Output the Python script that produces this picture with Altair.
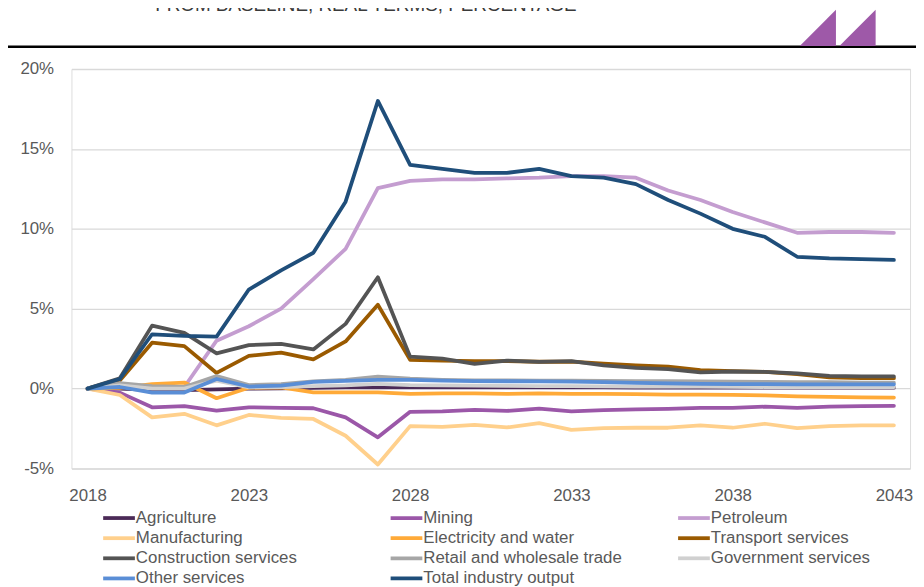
import altair as alt
import pandas as pd

years = list(range(2018, 2044))

series_names = [
    "Agriculture", "Mining", "Petroleum",
    "Manufacturing", "Electricity and water", "Transport services",
    "Construction services", "Retail and wholesale trade", "Government services",
    "Other services", "Total industry output",
]
series_colors = [
    "#4B2A57", "#9B57A8", "#C49DD0",
    "#FFD08C", "#FFAA38", "#9A5A00",
    "#545454", "#A6A6A6", "#D0D0D0",
    "#5A8ED6", "#1F4E7A",
]

agriculture = [0, 0.0, -0.08, -0.1, -0.05, 0.0, 0.02, 0.05, 0.07, 0.1, 0.08, 0.07, 0.07,
               0.07, 0.07, 0.07, 0.07, 0.06, 0.06, 0.06, 0.06, 0.06, 0.06, 0.06, 0.06, 0.06]
mining = [0, -0.25, -1.17, -1.1, -1.38, -1.17, -1.21, -1.23, -1.8, -3.05, -1.45, -1.42, -1.33,
          -1.4, -1.26, -1.43, -1.35, -1.3, -1.27, -1.21, -1.21, -1.13, -1.2, -1.13, -1.1, -1.08]
petroleum = [0, 0.2, 0.1, 0.1, 3.0, 3.9, 5.0, 6.85, 8.75, 12.55, 13.0, 13.1, 13.1,
             13.15, 13.2, 13.3, 13.3, 13.2, 12.4, 11.8, 11.05, 10.4, 9.75, 9.8, 9.8, 9.75]
manufacturing = [0, -0.4, -1.8, -1.58, -2.3, -1.65, -1.83, -1.9, -2.95, -4.75, -2.35, -2.4, -2.27,
                 -2.43, -2.16, -2.58, -2.47, -2.45, -2.45, -2.3, -2.45, -2.2, -2.47, -2.35, -2.3, -2.3]
electricity = [0, 0.05, 0.28, 0.38, -0.6, 0.05, 0.07, -0.24, -0.24, -0.24, -0.33, -0.3, -0.3,
               -0.33, -0.3, -0.33, -0.33, -0.35, -0.37, -0.38, -0.4, -0.42, -0.48, -0.52, -0.55, -0.56]
transport = [0, 0.5, 2.87, 2.66, 0.98, 2.05, 2.25, 1.83, 2.95, 5.25, 1.8, 1.75, 1.72,
             1.72, 1.68, 1.69, 1.56, 1.46, 1.38, 1.15, 1.1, 1.05, 0.9, 0.7, 0.65, 0.65]
construction = [0, 0.65, 3.94, 3.49, 2.2, 2.72, 2.8, 2.45, 4.05, 6.97, 2.0, 1.87, 1.55,
                1.75, 1.67, 1.72, 1.46, 1.3, 1.22, 1.02, 1.07, 1.05, 0.96, 0.8, 0.76, 0.76]
retail = [0, 0.35, 0.15, 0.1, 0.78, 0.22, 0.28, 0.45, 0.55, 0.75, 0.62, 0.55, 0.52,
          0.52, 0.5, 0.5, 0.48, 0.47, 0.46, 0.45, 0.44, 0.42, 0.41, 0.4, 0.38, 0.38]
government = [0, 0.2, 0.0, 0.0, 0.5, 0.08, 0.1, 0.15, 0.2, 0.3, 0.22, 0.2, 0.18,
              0.17, 0.16, 0.15, 0.14, 0.13, 0.12, 0.12, 0.11, 0.1, 0.1, 0.1, 0.1, 0.1]
other_services = [0, 0.1, -0.25, -0.25, 0.6, 0.13, 0.18, 0.42, 0.49, 0.55, 0.55, 0.5, 0.47,
                  0.46, 0.45, 0.44, 0.4, 0.36, 0.33, 0.3, 0.28, 0.28, 0.27, 0.27, 0.27, 0.27]
total_output = [0, 0.6, 3.4, 3.3, 3.25, 6.2, 7.4, 8.5, 11.7, 18.0, 14.0, 13.75, 13.5,
                13.5, 13.75, 13.3, 13.2, 12.8, 11.8, 10.95, 10.0, 9.5, 8.25, 8.15, 8.1, 8.05]

all_values = [agriculture, mining, petroleum, manufacturing, electricity, transport,
              construction, retail, government, other_services, total_output]

y_ticks = [-5, 0, 5, 10, 15, 20]
x_ticks = [2018, 2023, 2028, 2033, 2038, 2043]
title_text = "FROM BASELINE, REAL TERMS, PERCENTAGE"

rows = []
for name, vals in zip(series_names, all_values):
    for yr, v in zip(years, vals):
        rows.append({"series": name, "year": yr, "value": v})
df = pd.DataFrame(rows)

FONT = "Liberation Sans, Arial, sans-serif"
GREY = "#595959"

lines = alt.Chart(df).mark_line(strokeWidth=3.8, strokeJoin="round", strokeCap="round").encode(
    x=alt.X("year:Q", scale=alt.Scale(domain=[2017.5, 2043.5], nice=False, zero=False),
            axis=alt.Axis(values=x_ticks, format="d", title=None, grid=False, domain=False,
                          ticks=False, tickSize=0, labelPadding=27, labelBaseline="middle",
                          labelFontSize=17, labelColor=GREY, labelFont=FONT,
                          labelFlush=False, labelOverlap=False)),
    y=alt.Y("value:Q", scale=alt.Scale(domain=[-5, 20], nice=False),
            axis=alt.Axis(values=y_ticks, labelExpr="datum.value + '%'", title=None,
                          domain=False, ticks=False, tickSize=0, labelPadding=18,
                          labelFontSize=17, labelColor=GREY, labelFont=FONT,
                          grid=True, gridColor="#D9D9D9", gridWidth=1.3)),
    color=alt.Color("series:N", scale=alt.Scale(domain=series_names, range=series_colors),
                    legend=alt.Legend(title=None, orient="none", legendX=38, legendY=443,
                                      direction="horizontal",
                                      columns=3, gridAlign="all", columnPadding=48,
                                      rowPadding=2.3, symbolType="M -2 0 L 2 0", symbolSize=256,
                                      symbolStrokeWidth=3.8, labelFontSize=17, labelFont=FONT,
                                      labelColor=GREY, labelOffset=7, labelLimit=400)),
)

blank = pd.DataFrame({"k": [0]})

top_rule = alt.Chart(blank).mark_rule(color="black", strokeWidth=2.6).encode(
    x=alt.value(-64), x2=alt.value(852), y=alt.value(-22.5)
)

tri_path = "M -1 1 L 1 -1 L 1 1 Z"
logo1 = alt.Chart(blank).mark_point(shape=tri_path, filled=True, size=1332, opacity=1,
                                    color="#9E59A8", strokeWidth=0).encode(
    x=alt.value(753), y=alt.value(-41.5)
)
logo2 = alt.Chart(blank).mark_point(shape=tri_path, filled=True, size=1332, opacity=1,
                                    color="#9E59A8", strokeWidth=0).encode(
    x=alt.value(793), y=alt.value(-41.5)
)

title_mark = alt.Chart(blank).mark_text(text=title_text, font=FONT, fontSize=19,
                                        color="#3A3A3A", align="center",
                                        baseline="alphabetic").encode(
    x=alt.value(297), y=alt.value(-58.5)
)

chart = alt.layer(lines, top_rule, logo1, logo2, title_mark).properties(
    width=846, height=403,
    padding={"left": 64, "top": 59, "right": 6, "bottom": 117},
    autosize=alt.AutoSizeParams(type="none"),
).configure_view(stroke=None).configure(background="white")

chart.save("out.html", embed_options={"renderer": "svg", "actions": False})
